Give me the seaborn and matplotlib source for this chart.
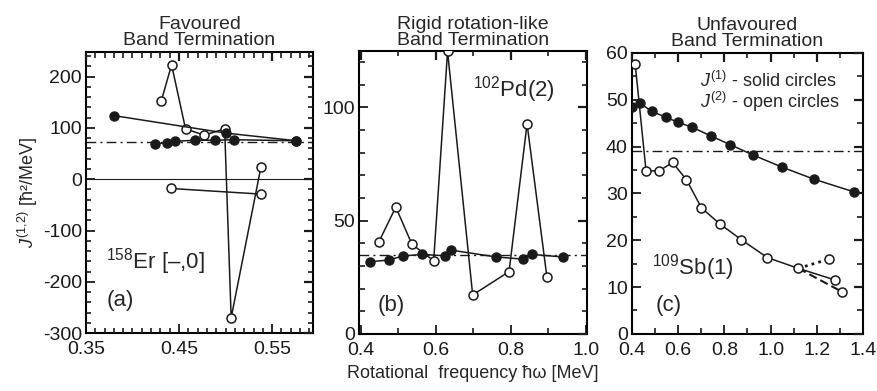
import numpy as np
import pandas as pd
import matplotlib
matplotlib.use('Agg')
import matplotlib.pyplot as plt
from matplotlib.ticker import MultipleLocator, FixedLocator, FormatStrFormatter
import seaborn as sns

# panel (a) 158Er favoured termination
a_j1_upper_x = [0.38, 0.50, 0.576]
a_j1_upper_y = [124, 90, 75]
a_j1_lower_x = [0.424, 0.437, 0.446, 0.467, 0.489, 0.509, 0.576]
a_j1_lower_y = [69, 71, 74, 76, 76, 77, 75]
a_j2_x = [0.431, 0.442, 0.457, 0.477, 0.499, 0.506, 0.538]
a_j2_y = [153, 223, 98, 86, 98, -270, 24]
a_j2b_x = [0.441, 0.538]
a_j2b_y = [-18, -29]
a_rigid = 73

# panel (b) 102Pd(2)
b_j1_x = [0.424, 0.475, 0.511, 0.563, 0.624, 0.640, 0.760, 0.833, 0.855, 0.938]
b_j1_y = [31.9, 32.6, 34.4, 35.1, 34.5, 37.0, 34.0, 33.0, 35.1, 34.0]
b_j2_x = [0.448, 0.493, 0.536, 0.594, 0.631, 0.698, 0.795, 0.843, 0.896]
b_j2_y = [40.7, 56.0, 39.6, 32.3, 124.8, 17.2, 27.5, 92.8, 25.0]
b_rigid = 35

# panel (c) 109Sb(1)
c_j1_x = [0.40, 0.434, 0.486, 0.546, 0.598, 0.662, 0.740, 0.826, 0.924, 1.05, 1.19, 1.363]
c_j1_y = [48.4, 49.3, 47.5, 46.3, 45.2, 44.1, 42.3, 40.4, 38.2, 35.6, 33.0, 30.3]
c_j2_x = [0.414, 0.461, 0.517, 0.576, 0.636, 0.701, 0.780, 0.874, 0.986, 1.12, 1.28]
c_j2_y = [57.6, 34.8, 34.8, 36.6, 32.9, 26.9, 23.5, 20.1, 16.3, 14.0, 11.5]
c_dot_x = [1.12, 1.255]
c_dot_y = [14.0, 16.0]
c_dash_x = [1.12, 1.309]
c_dash_y = [14.0, 9.0]
c_rigid = 39

sns.set_theme(style="ticks")
plt.rcParams['font.family'] = ['Liberation Sans', 'DejaVu Sans']
plt.rcParams['mathtext.fontset'] = 'custom'
plt.rcParams['mathtext.rm'] = 'Liberation Sans'
plt.rcParams['mathtext.it'] = 'Liberation Sans:italic'
plt.rcParams['axes.unicode_minus'] = False
plt.rcParams['axes.linewidth'] = 1.5
plt.rcParams['axes.edgecolor'] = 'black'
plt.rcParams['xtick.direction'] = 'in'
plt.rcParams['ytick.direction'] = 'in'
plt.rcParams['xtick.color'] = 'black'
plt.rcParams['ytick.color'] = 'black'
plt.rcParams['xtick.major.pad'] = 6
plt.rcParams['ytick.major.pad'] = 3

W, H = 877, 391
fig = plt.figure(figsize=(W / 100, H / 100), dpi=100)
ax_a = fig.add_axes([0.098, 0.148, 0.259, 0.719])
ax_b = fig.add_axes([0.4094, 0.146, 0.26, 0.724])
ax_c = fig.add_axes([0.7206, 0.146, 0.2634, 0.7187])

ms = 6.5
lw = 1.1


def solid(ax, x, y, **kw):
    sns.lineplot(x=x, y=y, ax=ax, sort=False, estimator=None, color='k',
                 marker='o', markersize=ms, markeredgecolor='k',
                 markeredgewidth=1.0, linewidth=lw, zorder=4, **kw)


def opened(ax, x, y, **kw):
    sns.lineplot(x=x, y=y, ax=ax, sort=False, estimator=None, color='k',
                 marker='o', markersize=ms, markerfacecolor='white',
                 markeredgecolor='k', markeredgewidth=1.1, linewidth=lw,
                 zorder=3, **kw)


# (a)
ax_a.axhline(a_rigid, color='k', lw=1.0, ls=(0, (7, 3, 1.5, 3)), zorder=1)
ax_a.axhline(0, color='k', lw=0.8, zorder=1)
opened(ax_a, a_j2_x, a_j2_y)
opened(ax_a, a_j2b_x, a_j2b_y)
solid(ax_a, a_j1_upper_x, a_j1_upper_y)
solid(ax_a, a_j1_lower_x, a_j1_lower_y)
ax_a.set_xlim(0.35, 0.594)
ax_a.set_ylim(-300, 248)
ax_a.xaxis.set_major_locator(FixedLocator([0.35, 0.45, 0.55]))
ax_a.xaxis.set_minor_locator(MultipleLocator(0.01))
ax_a.yaxis.set_major_locator(MultipleLocator(100))
ax_a.yaxis.set_minor_locator(MultipleLocator(20))
ax_a.xaxis.set_major_formatter(FormatStrFormatter('%.2f'))
ax_a.set_xlabel('')
ax_a.set_ylabel(r'$J^{(1,\!2)}$ [ħ²/MeV]', fontsize=13, labelpad=2)
ax_a.set_title('Favoured\nBand Termination', fontsize=14, linespacing=0.95, pad=5)
ax_a.text(0.088, 0.253, r'$^{158}$Er [–,0]', transform=ax_a.transAxes,
          fontsize=16, va='center', ha='left')
ax_a.text(0.09, 0.117, '(a)', transform=ax_a.transAxes, fontsize=16,
          va='center', ha='left')

# (b)
ax_b.axhline(b_rigid, color='k', lw=1.0, ls=(0, (7, 3, 1.5, 3)), zorder=1)
opened(ax_b, b_j2_x, b_j2_y)
solid(ax_b, b_j1_x, b_j1_y)
ax_b.set_xlim(0.395, 1.003)
ax_b.set_ylim(0, 125)
ax_b.xaxis.set_major_locator(MultipleLocator(0.2))
ax_b.xaxis.set_minor_locator(MultipleLocator(0.1))
ax_b.yaxis.set_major_locator(MultipleLocator(50))
ax_b.yaxis.set_minor_locator(MultipleLocator(10))
ax_b.xaxis.set_major_formatter(FormatStrFormatter('%.1f'))
ax_b.set_title('Rigid rotation-like\nBand Termination', fontsize=14, linespacing=0.95, pad=4)
ax_b.set_xlabel('Rotational  frequency ħω [MeV]', fontsize=13, labelpad=4)
ax_b.text(0.5, 0.862, r'$^{102}$Pd(2)', transform=ax_b.transAxes,
          fontsize=16, va='center', ha='left')
ax_b.text(0.083, 0.102, '(b)', transform=ax_b.transAxes, fontsize=16,
          va='center', ha='left')

# (c)
ax_c.axhline(c_rigid, color='k', lw=1.0, ls=(0, (7, 3, 1.5, 3)), zorder=1)
opened(ax_c, c_j2_x, c_j2_y)
sns.lineplot(x=c_dot_x, y=c_dot_y, ax=ax_c, sort=False, estimator=None, color='k',
             linewidth=2.0, linestyle=(0, (1, 1.5)), zorder=2)
sns.lineplot(x=c_dash_x, y=c_dash_y, ax=ax_c, sort=False, estimator=None, color='k',
             linewidth=1.5, linestyle=(0, (4, 2)), zorder=2)
opened(ax_c, [c_dot_x[1]], [c_dot_y[1]])
opened(ax_c, [c_dash_x[1]], [c_dash_y[1]])
solid(ax_c, c_j1_x, c_j1_y)
ax_c.set_xlim(0.4, 1.4)
ax_c.set_ylim(0, 60)
ax_c.xaxis.set_major_locator(MultipleLocator(0.2))
ax_c.xaxis.set_minor_locator(MultipleLocator(0.1))
ax_c.yaxis.set_major_locator(MultipleLocator(10))
ax_c.yaxis.set_minor_locator(MultipleLocator(5))
ax_c.xaxis.set_major_formatter(FormatStrFormatter('%.1f'))
ax_c.set_xlabel('')
ax_c.set_title('Unfavoured\nBand Termination', fontsize=14, linespacing=0.95, pad=5)
ax_c.text(0.294, 0.90, r'$J^{(1)}$ - solid circles', transform=ax_c.transAxes,
          fontsize=13, va='center', ha='left')
ax_c.text(0.294, 0.826, r'$J^{(2)}$ - open circles', transform=ax_c.transAxes,
          fontsize=13, va='center', ha='left')
ax_c.text(0.087, 0.235, r'$^{109}$Sb(1)', transform=ax_c.transAxes,
          fontsize=16, va='center', ha='left')
ax_c.text(0.104, 0.10, '(c)', transform=ax_c.transAxes, fontsize=16,
          va='center', ha='left')

# frame ticks: built-in majors on bottom/left, the rest drawn as short segments
maj_px, min_px = 9.0, 5.5
for ax in (ax_a, ax_b, ax_c):
    ax.set_autoscale_on(False)
    ax.tick_params(axis='both', which='major', direction='in', bottom=True, left=True,
                   top=False, right=False, labelsize=14, length=6.5, width=1.3, colors='k')
    ax.tick_params(axis='both', which='minor', length=0, bottom=False, left=False,
                   top=False, right=False)
    for s in ax.spines.values():
        s.set_visible(True)
        s.set_linewidth(1.5)
    pos = ax.get_position()
    w_px, h_px = pos.width * W, pos.height * H
    xt = ax.get_xaxis_transform()
    yt = ax.get_yaxis_transform()
    lo, hi = ax.get_xlim()
    xmaj = [v for v in ax.xaxis.get_majorticklocs() if lo <= v <= hi]
    xmin = [v for v in ax.xaxis.get_minorticklocs() if lo <= v <= hi]
    lo, hi = ax.get_ylim()
    ymaj = [v for v in ax.yaxis.get_majorticklocs() if lo <= v <= hi]
    ymin = [v for v in ax.yaxis.get_minorticklocs() if lo <= v <= hi]
    kw = dict(colors='k', clip_on=False, zorder=2.6)
    ax.vlines(xmin, 0, min_px / h_px, transform=xt, lw=1.2, **kw)
    ax.vlines(xmin, 1 - min_px / h_px, 1, transform=xt, lw=1.2, **kw)
    ax.vlines(xmaj, 1 - maj_px / h_px, 1, transform=xt, lw=1.6, **kw)
    ax.hlines(ymin, 0, min_px / w_px, transform=yt, lw=1.2, **kw)
    ax.hlines(ymin, 1 - min_px / w_px, 1, transform=yt, lw=1.2, **kw)
    ax.hlines(ymaj, 1 - maj_px / w_px, 1, transform=yt, lw=1.6, **kw)

fig.savefig('out.png', dpi=100)
